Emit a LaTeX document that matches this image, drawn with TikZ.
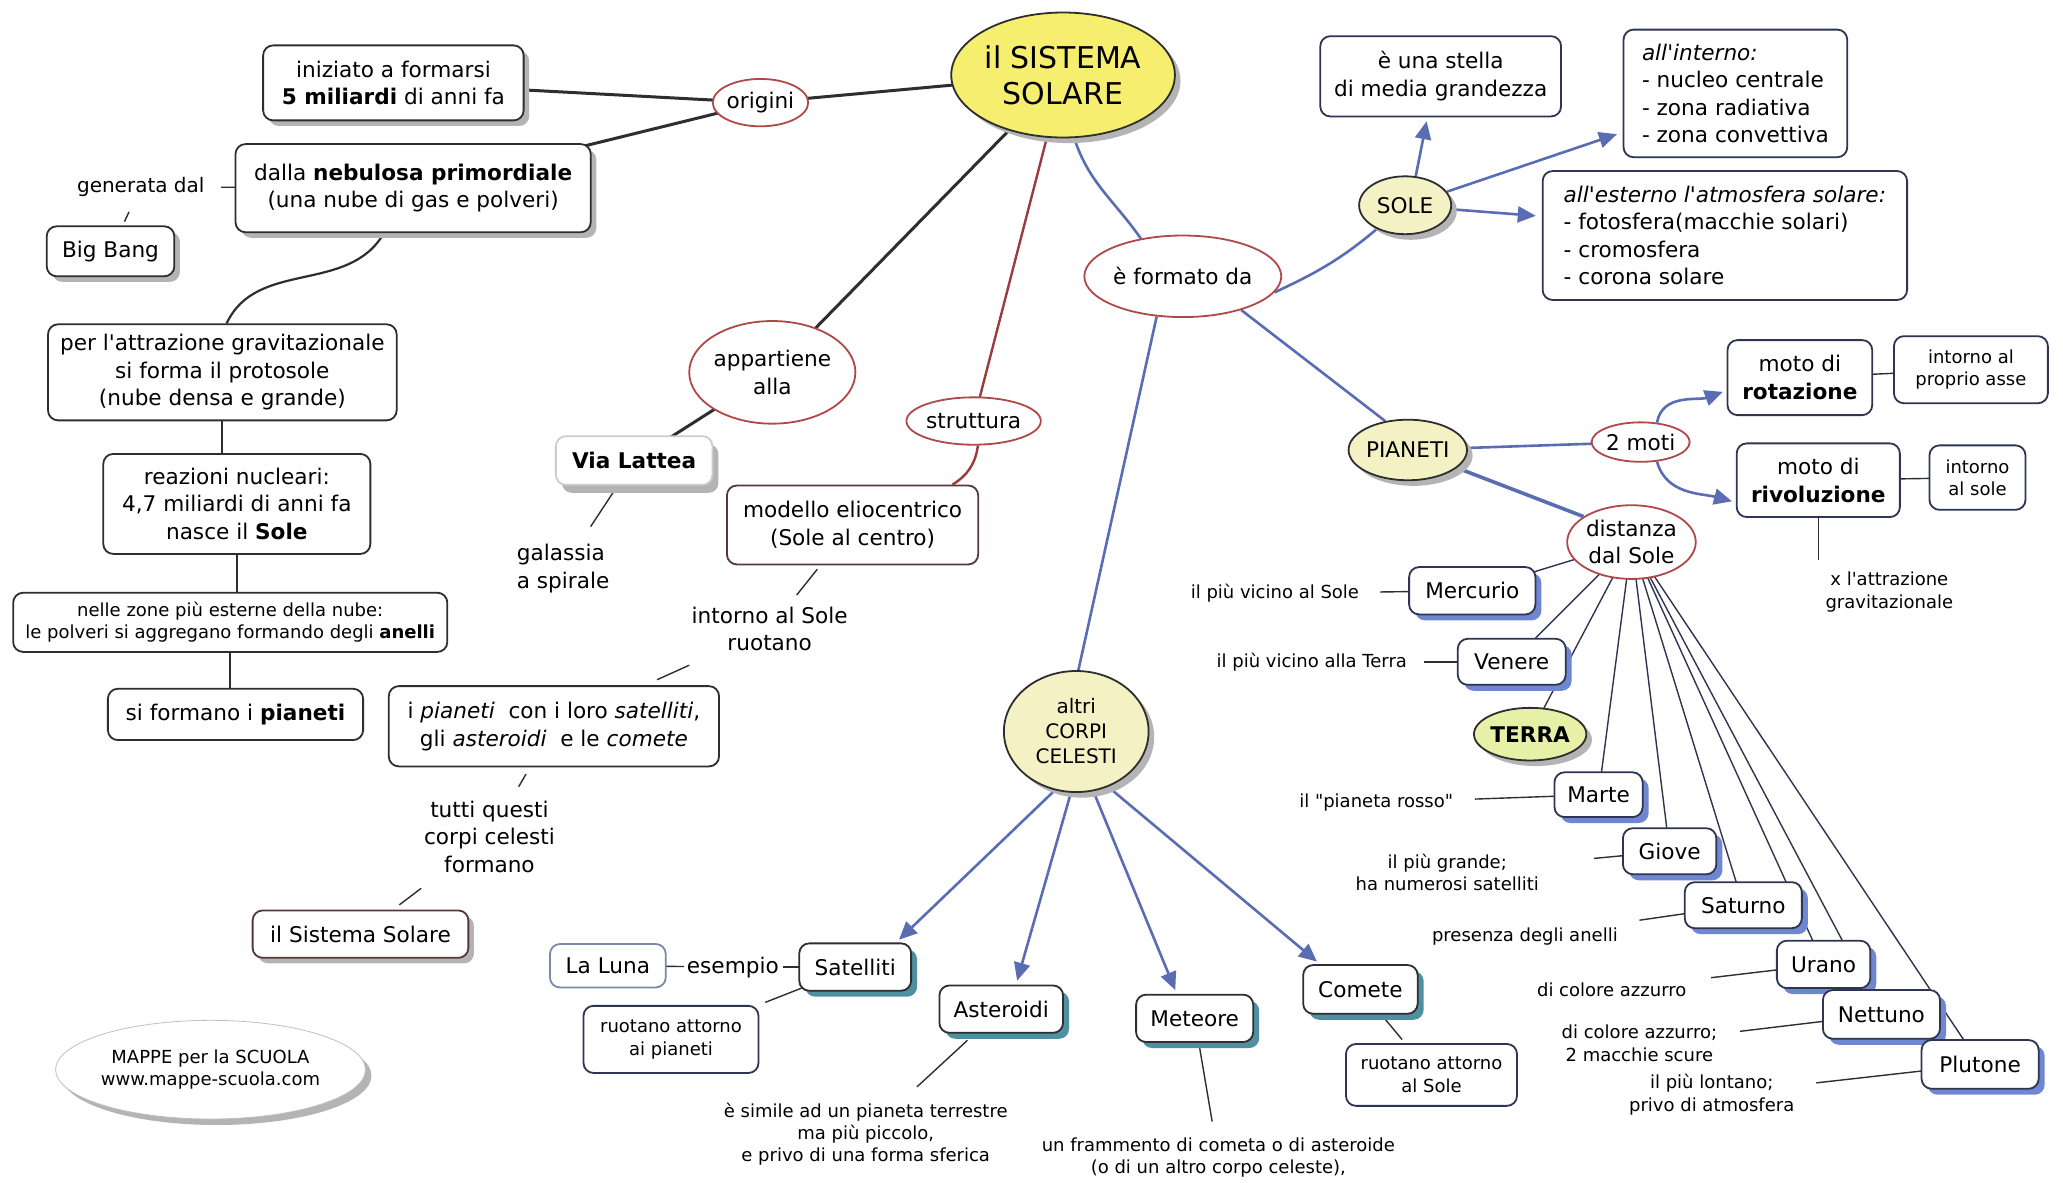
\documentclass[tikz,border=0pt]{standalone}
\usepackage{fontspec}
\setmainfont{DejaVu Sans}[Ligatures=TeXOff]
\usetikzlibrary{shapes.geometric,shadows,arrows.meta}
\pgfdeclarelayer{bg}
\pgfsetlayers{bg,main}
\definecolor{ttlyel}{HTML}{F5EE6E}
\definecolor{paleyel}{HTML}{F4F2C4}
\definecolor{terrayel}{HTML}{E6F0A6}
\definecolor{ellred}{HTML}{B04848}
\definecolor{redline}{HTML}{9A3C3C}
\definecolor{connblue}{HTML}{5A6CB2}
\definecolor{shblue}{HTML}{6F86D0}
\definecolor{shteal}{HTML}{4F8FA2}
\definecolor{shgray}{HTML}{B4B4B4}
\definecolor{dkline}{HTML}{2E2E2E}
\definecolor{navy}{HTML}{2F3452}
\definecolor{lunabrd}{HTML}{7C88A8}
\definecolor{modbrd}{HTML}{553838}
\newcommand{\myu}{0.65789pt}
\newcommand{\fNorm}{\fontsize{10.8}{13.8}\selectfont}
\newcommand{\fSmall}{\fontsize{9}{11.2}\selectfont}
\newcommand{\fTitle}{\fontsize{15}{18}\selectfont}
\newcommand{\fMid}{\fontsize{10}{12}\selectfont}
\newcommand{\fAltri}{\fontsize{10}{12.5}\selectfont}
\tikzset{
  every node/.style={font=\fNorm},
  sz/.style 2 args={minimum width=#1*\myu, minimum height=#2*\myu},
  box/.style={rectangle, rounded corners=5pt, draw=dkline, line width=0.9pt, fill=white, align=center, inner sep=1pt},
  nbox/.style={box, draw=navy},
  gsh/.style={drop shadow={shadow xshift=2.8pt, shadow yshift=-2.8pt, fill=shgray, opacity=1}},
  bsh/.style={drop shadow={shadow xshift=3pt, shadow yshift=-3pt, fill=shblue, opacity=1}},
  tsh/.style={drop shadow={shadow xshift=3pt, shadow yshift=-3pt, fill=shteal, opacity=1}},
  pbox/.style={nbox, bsh},
  redel/.style={ellipse, draw=ellred, line width=0.9pt, fill=white, align=center, inner sep=0pt},
  yel/.style={ellipse, draw=dkline, line width=0.9pt, fill=paleyel, align=center, inner sep=0pt, gsh},
  lbl/.style={align=center, inner sep=1pt},
  dk/.style={draw=dkline, line width=1.5pt},
  thn/.style={draw=dkline, line width=0.7pt},
  bline/.style={draw=connblue, line width=1.3pt},
  barr/.style={bline, -{Triangle[length=9pt,width=8pt]}},
  redln/.style={draw=redline, line width=1.2pt},
}
\begin{document}
\begin{tikzpicture}[x=\myu,y=\myu]
\useasboundingbox (0,0) rectangle (1568,-899);

% ---------- centre
\node[ellipse, draw=dkline, line width=0.9pt, fill=ttlyel, align=center, inner sep=0pt, gsh, sz={170}{95}, font=\fTitle] (T) at (808,-57) {il SISTEMA\\SOLARE};

% ---------- left: origins
\node[redel, sz={68}{36}] (orig) at (578,-78) {origini};
\node[box, gsh, sz={198}{57}] (ini) at (299,-63) {iniziato a formarsi\\\textbf{5 miliardi} di anni fa};
\node[box, gsh, sz={270}{67}] (neb) at (314,-143) {dalla \textbf{nebulosa primordiale}\\(una nube di gas e polveri)};
\node[lbl, font=\fMid] (gen) at (107,-142) {generata dal};
\node[box, gsh, sz={97}{38}] (bb) at (84,-191) {Big Bang};
\node[box, sz={265}{73}] (att) at (169,-283) {per l'attrazione gravitazionale\\si forma il protosole\\(nube densa e grande)};
\node[box, sz={203}{76}] (reaz) at (180,-383) {reazioni nucleari:\\4,7 miliardi di anni fa\\nasce il \textbf{Sole}};
\node[box, sz={330}{45}, font=\fSmall] (nel) at (175,-473) {nelle zone più esterne della nube:\\le polveri si aggregano formando degli \textbf{anelli}};
\node[box, sz={194}{39}] (sif) at (179,-543) {si formano i \textbf{pianeti}};

% ---------- middle left
\node[redel, sz={118}{78}] (app) at (587,-283) {appartiene\\alla};
\node[box, draw=black!20, drop shadow={shadow xshift=3pt, shadow yshift=-4pt, fill=shgray, opacity=1}, sz={119}{37}] (via) at (482,-350) {\textbf{Via Lattea}};
\node[lbl, align=left] (gal) at (428,-432) {galassia\\a spirale};
\node[redel, sz={84}{36}] (str) at (740,-320) {struttura};
\node[box, draw=modbrd, sz={191}{60}] (mod) at (648,-399) {modello eliocentrico\\(Sole al centro)};
\node[lbl] (intS) at (585,-478) {intorno al Sole\\ruotano};
\node[box, sz={251}{61}] (ipi) at (421,-552) {i \textit{pianeti}~ con i loro \textit{satelliti},\\gli \textit{asteroidi}~ e le \textit{comete}};
\node[lbl] (tut) at (372,-636) {tutti questi\\corpi celesti\\formano};
\node[box, draw=modbrd, gsh, sz={164}{36}] (ss) at (274,-710) {il Sistema Solare};
\node[ellipse, draw=black!25, fill=white, drop shadow={shadow xshift=3pt, shadow yshift=-3pt, fill=shgray, opacity=1}, sz={205}{75}, align=center, font=\fSmall, inner sep=0pt] (map) at (160,-813) {MAPPE per la SCUOLA\\www.mappe-scuola.com};

% ---------- right: sun
\node[redel, sz={124}{62}] (form) at (899,-210) {è formato da};
\node[yel, sz={70}{44}] (sole) at (1068,-156) {SOLE};
\node[nbox, sz={183}{61}] (stel) at (1095,-58) {è una stella\\di media grandezza};
\node[nbox, align=left, sz={170}{97}] (inte) at (1319,-71) {\textit{all'interno:}\\- nucleo centrale\\- zona radiativa\\- zona convettiva};
\node[nbox, align=left, sz={277}{98}] (este) at (1311,-179) {\textit{all'esterno l'atmosfera solare:}\\- fotosfera(macchie solari)\\- cromosfera\\- corona solare};

% ---------- planets
\node[yel, sz={90}{46}] (pian) at (1070,-342) {PIANETI};
\node[redel, sz={62}{30}] (moti) at (1247,-336) {2 moti};
\node[nbox, sz={110}{57}] (rot) at (1368,-287) {moto di\\\textbf{rotazione}};
\node[nbox, font=\fSmall, sz={117}{51}] (asse) at (1498,-281) {intorno al\\proprio asse};
\node[nbox, sz={124}{56}] (riv) at (1382,-365) {moto di\\\textbf{rivoluzione}};
\node[nbox, font=\fSmall, sz={73}{49}] (sol2) at (1503,-363) {intorno\\al sole};
\node[lbl, font=\fSmall] (xat) at (1436,-450) {x l'attrazione\\gravitazionale};
\node[redel, sz={88}{56}] (dist) at (1240,-412) {distanza\\dal Sole};

\node[pbox, sz={96}{36}] (merc) at (1119,-449) {Mercurio};
\node[pbox, sz={82}{35}] (ven) at (1149,-503) {Venere};
\node[yel, fill=terrayel, sz={84}{40}, font=\fNorm\bfseries] (ter) at (1163,-558) {TERRA};
\node[pbox, sz={67}{34}] (mar) at (1215,-604) {Marte};
\node[pbox, sz={71}{35}] (gio) at (1269,-647) {Giove};
\node[pbox, sz={89}{35}] (satu) at (1325,-688) {Saturno};
\node[pbox, sz={71}{36}] (ura) at (1386,-733) {Urano};
\node[pbox, sz={89}{37}] (net) at (1430,-771) {Nettuno};
\node[pbox, sz={89}{37}] (plu) at (1505,-809) {Plutone};

\node[lbl, font=\fSmall] (d1) at (969,-451) {il più vicino al Sole};
\node[lbl, font=\fSmall] (d2) at (997,-503) {il più vicino alla Terra};
\node[lbl, font=\fSmall] (d4) at (1046,-610) {il "pianeta rosso"};
\node[lbl, font=\fSmall] (d5) at (1100,-663) {il più grande;\\ha numerosi satelliti};
\node[lbl, font=\fSmall] (d6) at (1159,-712) {presenza degli anelli};
\node[lbl, font=\fSmall] (d7) at (1225,-752) {di colore azzurro};
\node[lbl, font=\fSmall] (d8) at (1246,-793) {di colore azzurro;\\2 macchie scure};
\node[lbl, font=\fSmall] (d9) at (1301,-832) {il più lontano;\\privo di atmosfera};

% ---------- other bodies
\node[yel, sz={110}{92}, font=\fAltri] (alt) at (818,-556) {altri\\CORPI\\CELESTI};
\node[box, tsh, sz={85}{36}] (sat) at (650,-735) {Satelliti};
\node[box, draw=lunabrd, sz={88}{33}] (luna) at (462,-734) {La Luna};
\node[lbl] (esem) at (557,-735) {esempio};
\node[nbox, font=\fSmall, sz={133}{51}] (ruo1) at (510,-790) {ruotano attorno\\ai pianeti};
\node[box, tsh, sz={94}{36}] (ast) at (761,-767) {Asteroidi};
\node[lbl, font=\fSmall] (astd) at (658,-862) {è simile ad un pianeta terrestre\\ma più piccolo,\\e privo di una forma sferica};
\node[box, tsh, sz={89}{36}] (met) at (908,-774) {Meteore};
\node[lbl, font=\fSmall] (metd) at (926,-880) {un frammento di cometa o di asteroide\\(o di un altro corpo celeste),};
\node[box, tsh, sz={87}{37}] (com) at (1034,-752) {Comete};
\node[nbox, font=\fSmall, sz={130}{47}] (ruo2) at (1088,-817) {ruotano attorno\\al Sole};

% ---------- connectors (behind the nodes)
\begin{pgfonlayer}{bg}
\fill[white] (0,0) rectangle (1568,-899);
\draw[dk] (T.center) -- (orig.center);
\draw[dk] (orig.center) -- (ini.center);
\draw[dk] (orig.center) -- (neb.center);
\draw[thn, shorten <=61*\myu] (gen.center) -- (neb.center);
\draw[thn, shorten <=21*\myu, shorten >=25*\myu] (gen.center) -- (bb.center);
\draw[dk, line width=1.1pt] (neb.237) to[out=240,in=65] (att.85);
\draw[thn, line width=0.9pt] (att.south) -- (att.south |- reaz.north);
\draw[thn, line width=0.9pt] (reaz.south) -- (reaz.south |- nel.north);
\draw[thn, line width=0.9pt] (nel.south) -- (nel.south |- sif.north);

\draw[dk] (T.center) -- (app.center);
\draw[dk] (app.center) -- (via.center);
\draw[thn, shorten <=29*\myu, shorten >=38*\myu] (via.center) -- (gal.center);
\draw[redln] (T.center) -- (str.center);
\draw[redln] (str.280) to[bend left=25] (mod.22);
\draw[thn, shorten <=43*\myu, shorten >=33*\myu] (mod.center) -- (intS.center);
\draw[thn, shorten <=67*\myu, shorten >=86*\myu] (intS.center) -- (ipi.center);
\draw[thn, shorten <=42*\myu, shorten >=44*\myu] (ipi.center) -- (tut.center);
\draw[thn, shorten <=65*\myu, shorten >=37*\myu] (tut.center) -- (ss.center);

\draw[bline] (T.280) to[out=-72,in=125] (form.138);
\draw[bline] (form.350) to[out=25,in=220] (sole.220);
\draw[bline] (form.330) -- (pian.128);
\draw[bline] (form.237) -- (alt.88);
\draw[barr, shorten >=2pt] (sole.70) -- (stel.252);
\draw[barr, shorten >=3pt] (sole.18) -- (inte.199);
\draw[barr, shorten >=3pt] (sole.355) -- (este.174);

\draw[bline] (pian.center) -- (moti.center);
\draw[bline, line width=1.8pt] (pian.340) -- (dist.152);
\draw[barr, shorten >=2pt] (moti.50) to[out=80,in=200] (rot.190);
\draw[barr, shorten >=2pt] (moti.310) to[out=-75,in=165] (riv.195);
\draw[thn] (rot.center) -- (asse.center);
\draw[thn] (riv.center) -- (sol2.center);
\draw[thn, shorten >=5pt] (riv.south) -- (riv.south |- xat.north);

\foreach \p in {merc,ven,ter,mar,gio,satu,ura,net,plu}
  \draw[draw=navy, line width=0.7pt] (dist.center) -- (\p.center);
\draw[thn, shorten <=80*\myu] (d1.center) -- (merc.center);
\draw[thn, shorten <=85*\myu] (d2.center) -- (ven.center);
\draw[thn, shorten <=75*\myu] (d4.center) -- (mar.center);
\draw[thn, shorten <=112*\myu] (d5.center) -- (gio.center);
\draw[thn, shorten <=88*\myu] (d6.center) -- (satu.center);
\draw[thn, shorten <=76*\myu] (d7.center) -- (ura.center);
\draw[thn, shorten <=77*\myu] (d8.center) -- (net.center);
\draw[thn, shorten <=80*\myu] (d9.center) -- (plu.center);

\draw[barr, shorten >=2pt] (alt.250) -- (sat.31);
\draw[barr, shorten >=2pt] (alt.265) -- (ast.59);
\draw[barr, shorten >=2pt] (alt.286) -- (met.126);
\draw[barr, shorten >=2pt] (alt.300) -- (com.148);
\draw[thn, shorten >=37*\myu] (luna.center) -- (esem.center);
\draw[thn, shorten <=38*\myu] (esem.center) -- (sat.center);
\draw[thn, shorten <=43*\myu, shorten >=77*\myu] (sat.center) -- (ruo1.center);
\draw[thn, shorten <=35*\myu, shorten >=53*\myu] (ast.center) -- (astd.center);
\draw[thn, shorten <=23*\myu, shorten >=28*\myu] (met.center) -- (metd.center);
\draw[thn, shorten <=26*\myu, shorten >=35*\myu] (com.center) -- (ruo2.center);
\end{pgfonlayer}
\end{tikzpicture}
\end{document}
